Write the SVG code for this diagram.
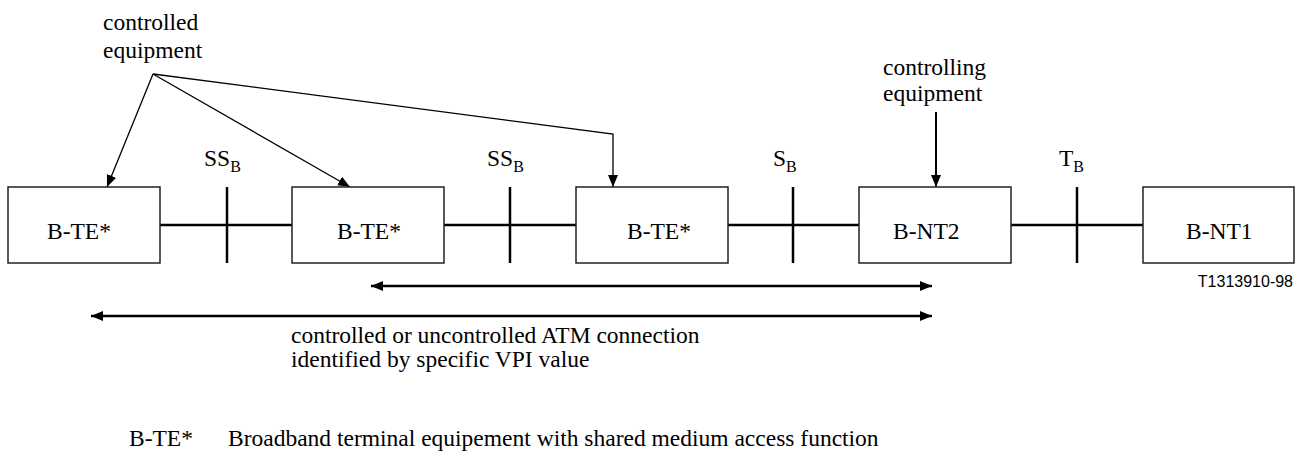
<svg xmlns="http://www.w3.org/2000/svg" width="1305" height="455" viewBox="0 0 1305 455">
<defs>
<marker id="ah" viewBox="0 0 12 10" refX="12" refY="5" markerWidth="12" markerHeight="10" markerUnits="userSpaceOnUse" orient="auto-start-reverse">
<path d="M0,0 L12,5 L0,10 Z" fill="#000"/>
</marker>
</defs>
<rect width="1305" height="455" fill="#fff"/>

<g id="connectors" stroke="#000" fill="none">
<g stroke-width="2.5">
<line x1="160" y1="225" x2="292" y2="225"/>
<line x1="444" y1="225" x2="576" y2="225"/>
<line x1="728" y1="225" x2="859" y2="225"/>
<line x1="1011" y1="225" x2="1143" y2="225"/>
<line x1="227" y1="187" x2="227" y2="263"/>
<line x1="510" y1="187" x2="510" y2="263"/>
<line x1="793" y1="187" x2="793" y2="263"/>
<line x1="1077" y1="187" x2="1077" y2="263"/>
<line x1="371" y1="286" x2="932" y2="286" marker-start="url(#ah)" marker-end="url(#ah)"/>
<line x1="91" y1="316" x2="932" y2="316" marker-start="url(#ah)" marker-end="url(#ah)"/>
</g>
<g stroke-width="1.3">
<line x1="153" y1="74" x2="107" y2="187" marker-end="url(#ah)"/>
<line x1="153" y1="74" x2="350" y2="187" marker-end="url(#ah)"/>
<polyline points="153,74 613,134 613,187" marker-end="url(#ah)"/>
</g>
<line x1="936" y1="112" x2="936" y2="187" stroke-width="2" marker-end="url(#ah)"/>
</g>

<g font-family="Liberation Serif" font-size="23.5" fill="#000">
<g id="node-bte1"><rect x="8" y="187" width="152" height="76" fill="#fff" stroke="#222" stroke-width="1.5"/><text x="47" y="239">B-TE*</text></g>
<g id="node-bte2"><rect x="292" y="187" width="152" height="76" fill="#fff" stroke="#222" stroke-width="1.5"/><text x="337" y="239">B-TE*</text></g>
<g id="node-bte3"><rect x="576" y="187" width="152" height="76" fill="#fff" stroke="#222" stroke-width="1.5"/><text x="627" y="239">B-TE*</text></g>
<g id="node-bnt2"><rect x="859" y="187" width="152" height="76" fill="#fff" stroke="#222" stroke-width="1.5"/><text x="893" y="239">B-NT2</text></g>
<g id="node-bnt1"><rect x="1143" y="187" width="151" height="76" fill="#fff" stroke="#222" stroke-width="1.5"/><text x="1186" y="239">B-NT1</text></g>

<g id="labels">
<text x="103" y="30">controlled</text>
<text x="103" y="58">equipment</text>
<text x="883" y="75">controlling</text>
<text x="883" y="101">equipment</text>
<text x="204" y="166">SS<tspan font-size="16" dy="6">B</tspan></text>
<text x="487" y="166">SS<tspan font-size="16" dy="6">B</tspan></text>
<text x="773" y="166">S<tspan font-size="16" dy="6">B</tspan></text>
<text x="1059" y="166">T<tspan font-size="16" dy="6">B</tspan></text>
<text font-family="Liberation Sans" font-size="16" x="1293" y="287" text-anchor="end">T1313910-98</text>
<text x="291" y="343">controlled or uncontrolled ATM connection</text>
<text x="291" y="367">identified by specific VPI value</text>
<text x="129" y="446">B-TE*</text>
<text x="228" y="446">Broadband terminal equipement with shared medium access function</text>
</g>
</g>
</svg>
